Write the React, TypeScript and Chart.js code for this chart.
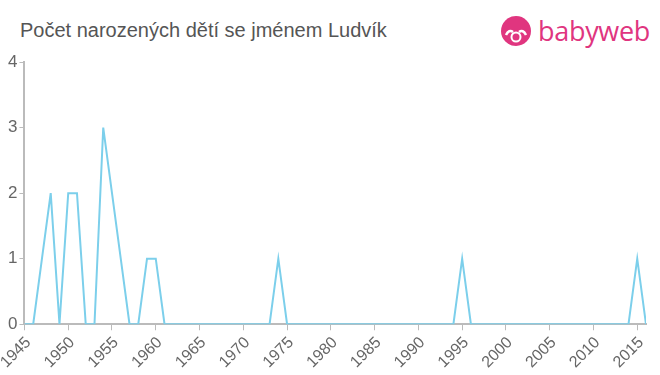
import React, { useEffect, useRef } from "react";
import { Chart, registerables } from "chart.js";

Chart.register(...registerables);

const TITLE = "Počet narozených dětí se jménem Ludvík";
const years = [
  1945, 1946, 1947, 1948, 1949, 1950, 1951, 1952, 1953, 1954, 1955, 1956, 1957, 1958, 1959, 1960,
  1961, 1962, 1963, 1964, 1965, 1966, 1967, 1968, 1969, 1970, 1971, 1972, 1973, 1974, 1975, 1976,
  1977, 1978, 1979, 1980, 1981, 1982, 1983, 1984, 1985, 1986, 1987, 1988, 1989, 1990, 1991, 1992,
  1993, 1994, 1995, 1996, 1997, 1998, 1999, 2000, 2001, 2002, 2003, 2004, 2005, 2006, 2007, 2008,
  2009, 2010, 2011, 2012, 2013, 2014, 2015, 2016,
];
const counts = [
  0, 0, 1, 2, 0, 2, 2, 0, 0, 3, 2, 1, 0, 0, 1, 1,
  0, 0, 0, 0, 0, 0, 0, 0, 0, 0, 0, 0, 0, 1, 0, 0,
  0, 0, 0, 0, 0, 0, 0, 0, 0, 0, 0, 0, 0, 0, 0, 0,
  0, 0, 1, 0, 0, 0, 0, 0, 0, 0, 0, 0, 0, 0, 0, 0,
  0, 0, 0, 0, 0, 0, 1, 0,
];
const xTicks = [1945, 1950, 1955, 1960, 1965, 1970, 1975, 1980, 1985, 1990, 1995, 2000, 2005, 2010, 2015];
const yTicks = [0, 1, 2, 3, 4];

export default function App() {
  const ref = useRef<HTMLCanvasElement | null>(null);
  useEffect(() => {
    if (!ref.current) return;
    const chart = new Chart(ref.current, {
      type: "line",
      data: {
        datasets: [
          {
            data: years.map((y, i) => ({ x: y, y: counts[i] })),
            borderColor: "#7ccfeb",
            borderWidth: 2,
            pointRadius: 0,
            tension: 0,
            fill: false,
          },
        ],
      },
      options: {
        animation: false,
        responsive: true,
        maintainAspectRatio: false,
        layout: { padding: { top: 62, left: 6, right: 14, bottom: 0 } },
        plugins: { legend: { display: false }, tooltip: { enabled: false } },
        scales: {
          x: {
            type: "linear",
            min: 1945,
            max: 2016,
            afterBuildTicks: (s: any) => {
              s.ticks = xTicks.map((v) => ({ value: v }));
            },
            afterFit: (s: any) => {
              s.paddingLeft = 0;
              s.paddingRight = 0;
            },
            ticks: {
              autoSkip: false,
              minRotation: 45,
              maxRotation: 45,
              color: "#666",
              font: { size: 16, family: "Arial, 'Liberation Sans', sans-serif" },
              padding: 3,
              labelOffset: 4,
              callback: (v: any) => String(v),
            },
            grid: { drawOnChartArea: false, drawTicks: true, tickLength: 6, color: "#bbb" },
            border: { color: "#bbb", width: 2 },
          },
          y: {
            min: 0,
            max: 4,
            afterBuildTicks: (s: any) => {
              s.ticks = yTicks.map((v) => ({ value: v }));
            },
            ticks: {
              color: "#666",
              font: { size: 17, family: "Arial, 'Liberation Sans', sans-serif" },
              padding: 2,
            },
            grid: { drawOnChartArea: false, drawTicks: true, tickLength: 5, color: "#bbb" },
            border: { color: "#bbb", width: 2 },
          },
        },
      },
    });
    return () => chart.destroy();
  }, []);

  return (
    <div style={{ position: "absolute", left: 0, top: 0, width: 660, height: 375, background: "#fff", overflow: "hidden" }}>
      <div
        style={{
          position: "absolute",
          left: 20,
          top: 19,
          fontFamily: "Arial, 'Liberation Sans', sans-serif",
          fontSize: 20,
          lineHeight: "22px",
          color: "#555",
          whiteSpace: "nowrap",
        }}
      >
        {TITLE}
      </div>
      <div style={{ position: "absolute", left: 500, top: 15, display: "flex", alignItems: "center" }}>
        <svg width="32" height="32" viewBox="0 0 32 32">
          <circle cx="16" cy="16" r="15" fill="#e0357f" />
          <circle cx="16" cy="22" r="5.5" fill="#fff" />
          <circle cx="16" cy="22" r="3.5" fill="#e0357f" />
          <path d="M6 20 Q9 14 13 17" stroke="#fff" strokeWidth="2.5" fill="none" />
          <path d="M26 20 Q23 14 19 17" stroke="#fff" strokeWidth="2.5" fill="none" />
        </svg>
        <span
          style={{
            marginLeft: 6,
            fontFamily: "'Open Sans', Arial, sans-serif",
            fontSize: 27,
            color: "#e0357f",
            lineHeight: "32px",
            letterSpacing: -0.3,
          }}
        >
          babyweb
        </span>
      </div>
      <div style={{ position: "absolute", left: 0, top: 0, width: 660, height: 375 }}>
        <canvas ref={ref} />
      </div>
    </div>
  );
}
